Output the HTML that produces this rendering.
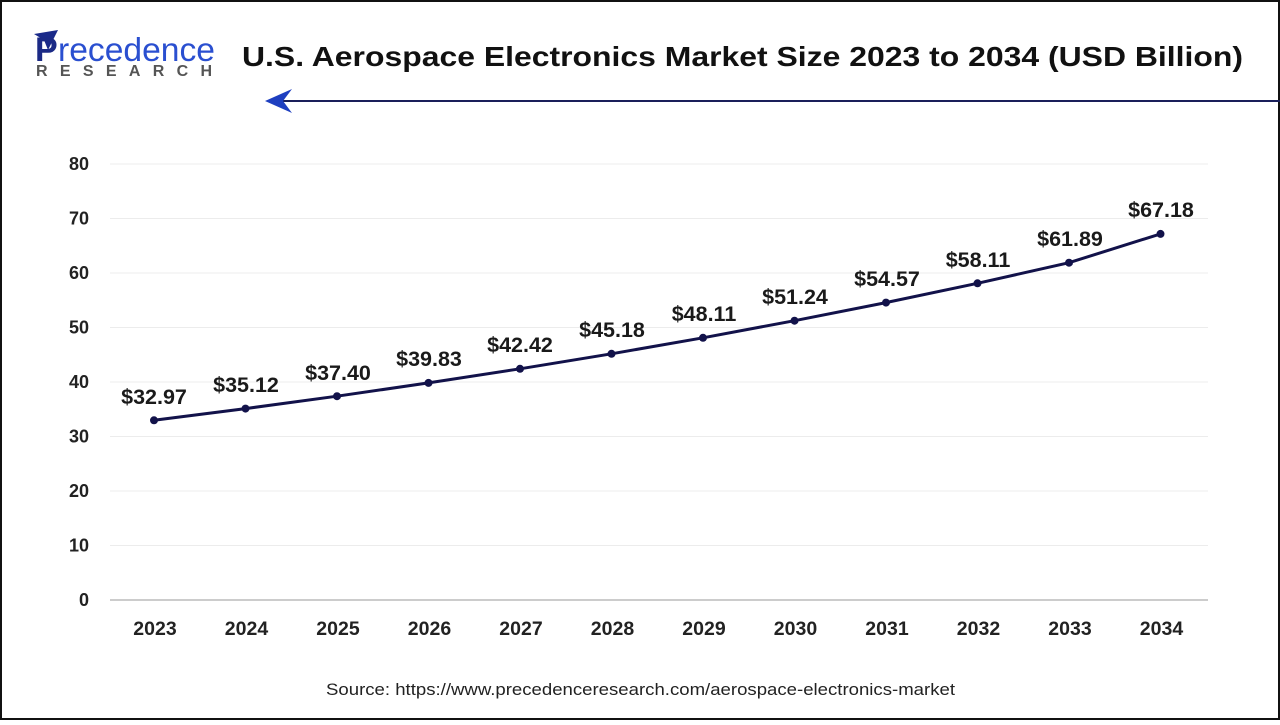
<!DOCTYPE html>
<html><head><meta charset="utf-8"><style>
html,body{margin:0;padding:0;background:#fff;}
body{width:1280px;height:720px;overflow:hidden;font-family:"Liberation Sans",Arial,sans-serif;}
</style></head><body>
<svg width="1280" height="720" xmlns="http://www.w3.org/2000/svg" font-family="Liberation Sans, Arial, sans-serif">
<rect x="1" y="1" width="1278" height="718" fill="#fff" stroke="#111" stroke-width="2"/>
<!-- logo -->
<path d="M34 34 L58 30 L48 50 L44 40 Z" fill="#1a2a8a"/>
<text x="35" y="61" font-size="34" font-weight="bold" fill="#1b2a86">P</text>
<text x="58" y="61" font-size="33" fill="#2a4fd0" textLength="157" lengthAdjust="spacingAndGlyphs">recedence</text>
<text x="36" y="76" font-size="16" font-weight="bold" fill="#555" textLength="176" lengthAdjust="spacing">RESEARCH</text>
<text x="242" y="66" font-size="28" font-weight="bold" fill="#111" textLength="1001" lengthAdjust="spacingAndGlyphs">U.S. Aerospace Electronics Market Size 2023 to 2034 (USD Billion)</text>
<line x1="280" y1="101" x2="1280" y2="101" stroke="#1a1f5a" stroke-width="2"/>
<path d="M265 101 L292 89 L283 101 L292 113 Z" fill="#1e3fc0"/>
<!-- grid -->
<g stroke="#ececec" stroke-width="1">
<line x1="110" x2="1208" y1="164" y2="164"/><line x1="110" x2="1208" y1="218.5" y2="218.5"/>
<line x1="110" x2="1208" y1="273" y2="273"/><line x1="110" x2="1208" y1="327.5" y2="327.5"/>
<line x1="110" x2="1208" y1="382" y2="382"/><line x1="110" x2="1208" y1="436.5" y2="436.5"/>
<line x1="110" x2="1208" y1="491" y2="491"/><line x1="110" x2="1208" y1="545.5" y2="545.5"/>
</g>
<line x1="110" x2="1208" y1="600" y2="600" stroke="#bbb" stroke-width="1.5"/>
<g font-size="18" font-weight="bold" fill="#222" text-anchor="end">
<text x="89" y="170">80</text><text x="89" y="224.5">70</text><text x="89" y="279">60</text>
<text x="89" y="333.5">50</text><text x="89" y="388">40</text><text x="89" y="442.5">30</text>
<text x="89" y="497">20</text><text x="89" y="551.5">10</text><text x="89" y="606">0</text>
</g>
<g font-size="19.5" font-weight="bold" fill="#222" text-anchor="middle">
<text x="155" y="635">2023</text><text x="246.5" y="635">2024</text><text x="338" y="635">2025</text>
<text x="429.5" y="635">2026</text><text x="521" y="635">2027</text><text x="612.5" y="635">2028</text>
<text x="704" y="635">2029</text><text x="795.5" y="635">2030</text><text x="887" y="635">2031</text>
<text x="978.5" y="635">2032</text><text x="1070" y="635">2033</text><text x="1161.5" y="635">2034</text>
</g>
<polyline fill="none" stroke="#12124a" stroke-width="3" points="154,420.3 245.5,408.6 337,396.2 428.5,382.9 520,368.8 611.5,353.8 703,337.8 794.5,320.7 886,302.6 977.5,283.3 1069,262.7 1160.5,233.9"/>
<g fill="#12124a">
<circle cx="154" cy="420.3" r="4"/><circle cx="245.5" cy="408.6" r="4"/><circle cx="337" cy="396.2" r="4"/>
<circle cx="428.5" cy="382.9" r="4"/><circle cx="520" cy="368.8" r="4"/><circle cx="611.5" cy="353.8" r="4"/>
<circle cx="703" cy="337.8" r="4"/><circle cx="794.5" cy="320.7" r="4"/><circle cx="886" cy="302.6" r="4"/>
<circle cx="977.5" cy="283.3" r="4"/><circle cx="1069" cy="262.7" r="4"/><circle cx="1160.5" cy="233.9" r="4"/>
</g>
<g font-size="21.5" font-weight="bold" fill="#1a1a1a" text-anchor="middle">
<text x="154" y="404">$32.97</text><text x="246" y="392">$35.12</text><text x="338" y="380">$37.40</text>
<text x="429" y="366">$39.83</text><text x="520" y="352">$42.42</text><text x="612" y="337">$45.18</text>
<text x="704" y="321">$48.11</text><text x="795" y="304">$51.24</text><text x="887" y="286">$54.57</text>
<text x="978" y="267">$58.11</text><text x="1070" y="246">$61.89</text><text x="1161" y="217">$67.18</text>
</g>
<text x="326" y="695" font-size="17" fill="#222" textLength="629" lengthAdjust="spacingAndGlyphs">Source: https://www.precedenceresearch.com/aerospace-electronics-market</text>
</svg>
</body></html>
